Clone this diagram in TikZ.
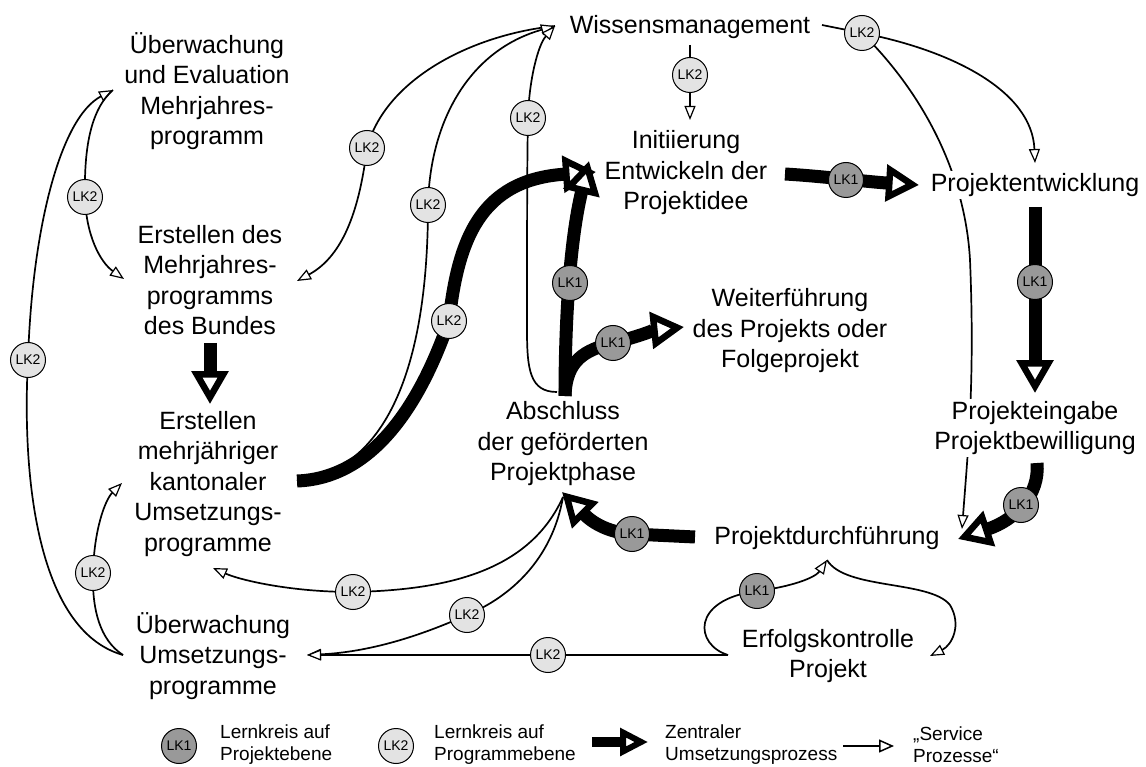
\documentclass[tikz,border=0pt]{standalone}
\usepackage{fontspec}
\setmainfont{Liberation Sans}
\usetikzlibrary{arrows.meta}
\pgfdeclarelayer{bgw}
\pgfdeclarelayer{thinlayer}
\pgfdeclarelayer{thicklayer}
\pgfsetlayers{bgw,thinlayer,thicklayer,main}
\definecolor{lkdark}{gray}{0.6}
\definecolor{lklight}{gray}{0.89}
\begin{document}
\begin{tikzpicture}[x=1pt,y=-1pt,
  lbl/.style={align=center, font=\fontsize{25}{30.5}\selectfont, fill=white, inner sep=2pt},
  leg/.style={align=left, font=\fontsize{19}{22}\selectfont, anchor=west, inner sep=0pt},
  lkone/.style={circle, draw, line width=1pt, fill=lkdark, minimum size=35pt, inner sep=0pt, font=\fontsize{14}{14}\selectfont},
  lktwo/.style={lkone, fill=lklight},
  thickarr/.style={line width=13pt, -{Triangle[length=33pt, width=36pt, line width'=6.5pt, fill=white]}},
  thinarr/.style={line width=1.7pt, -{Triangle[length=14pt, width=11pt, line width'=1.2pt, fill=white]}},
  legthick/.style={line width=10pt, -{Triangle[length=28pt, width=27pt, line width'=6pt, fill=white]}},
  legthin/.style={line width=2.5pt, -{Triangle[length=15pt, width=13pt, line width'=1.5pt, fill=white]}}
]
\begin{pgfonlayer}{bgw}
\fill[white] (0,0) rectangle (1146,767);
\end{pgfonlayer}
\useasboundingbox (0,0) rectangle (1146,767);

% ---------- text nodes ----------
\node[lbl] (uevm) at (207,91) {Überwachung\\und Evaluation\\Mehrjahres-\\programm};
\node[lbl] (mjp) at (210,280) {Erstellen des\\Mehrjahres-\\programms\\des Bundes};
\node[lbl] (kant) at (208,484) {Erstellen\\mehrjähriger\\kantonaler\\Umsetzungs-\\programme};
\node[lbl] (uum) at (213,656) {Überwachung\\Umsetzungs-\\programme};
\node[lbl] (wm) at (690,27) {Wissensmanagement};
\node[lbl] (init) at (686,173) {Initiierung\\Entwickeln der\\Projektidee};
\node[lbl] (pe) at (1035,185) {Projektentwicklung};
\node[lbl] (wf) at (790,331) {Weiterführung\\des Projekts oder\\Folgeprojekt};
\node[lbl] (abs) at (563,444) {Abschluss\\der geförderten\\Projektphase};
\node[lbl] (peb) at (1035,428) {Projekteingabe\\Projektbewilligung};
\node[lbl] (pdf) at (827,538) {Projektdurchführung};
\node[lbl] (ek) at (828,656) {Erfolgskontrolle\\Projekt};

% ---------- connector end points ----------
\coordinate (wmL) at (555,26);
\coordinate (wmB) at (690,45);
\coordinate (initT) at (690,120);
\coordinate (wmR) at (822,25);
\coordinate (uevmL) at (113,90);
\coordinate (mjpL) at (124,279);
\coordinate (mjpR) at (297,281);
\coordinate (mjpB) at (210,343);
\coordinate (kantT) at (210,404);
\coordinate (kantR) at (297,481);
\coordinate (kantL) at (122,483);
\coordinate (kantB) at (213,568);
\coordinate (uumL) at (123,655);
\coordinate (uumR) at (307,655);
\coordinate (initL) at (596,172);
\coordinate (initB) at (589,161);
\coordinate (absT) at (565,396);
\coordinate (absTl) at (557,392);
\coordinate (absB) at (563,497);
\coordinate (absBR) at (562,492);
\coordinate (wfL) at (684,327);
\coordinate (initR) at (785,174);
\coordinate (peL) at (919,185);
\coordinate (peT) at (1035,163);
\coordinate (peB) at (1035,207);
\coordinate (pebT) at (1035,393);
\coordinate (pebB) at (1037,463);
\coordinate (pdfR) at (958,539);
\coordinate (pdfRt) at (962,529);
\coordinate (pdfL) at (695,537);
\coordinate (pdfB) at (827,560);
\coordinate (ekL) at (728,655);
\coordinate (ekR) at (930,656);

% ---------- learning circle nodes ----------
\node[lktwo] (c2a) at (28,360) {LK2};
\node[lktwo] (c2b) at (85,197) {LK2};
\node[lktwo] (c2c) at (93,573) {LK2};
\node[lktwo] (c2d) at (367,148) {LK2};
\node[lktwo] (c2e) at (428,205) {LK2};
\node[lktwo] (c2f) at (528,118) {LK2};
\node[lktwo] (c2t) at (449,321) {LK2};
\node[lktwo] (c2g) at (690,75) {LK2};
\node[lktwo] (c2h) at (862,33) {LK2};
\node[lktwo] (c2i) at (353,592) {LK2};
\node[lktwo] (c2j) at (467,615) {LK2};
\node[lktwo] (c2k) at (548,655) {LK2};
\node[lkone] (c1a) at (570,283) {LK1};
\node[lkone] (c1b) at (613,343) {LK1};
\node[lkone] (c1c) at (846,180) {LK1};
\node[lkone] (c1d) at (1035,282) {LK1};
\node[lkone] (c1e) at (1021,505) {LK1};
\node[lkone] (c1f) at (632,534) {LK1};
\node[lkone] (c1g) at (757,591) {LK1};

% ---------- legend ----------
\node[lkone] (lg1) at (179,746) {LK1};
\node[leg] (lg1t) at (220,745) {Lernkreis auf\\Projektebene};
\node[lktwo] (lg2) at (396,746) {LK2};
\node[leg] (lg2t) at (434,745) {Lernkreis auf\\Programmebene};
\coordinate (lga1) at (592,742);
\coordinate (lga2) at (648,742);
\node[leg] (lg3t) at (665,745) {Zentraler\\Umsetzungsprozess};
\coordinate (lgb1) at (843,746);
\coordinate (lgb2) at (894,746);
\node[leg] (lg4t) at (913,745) {„Service\\Prozesse“};

% ---------- thin "service" connectors ----------
\begin{pgfonlayer}{thinlayer}
\draw[thinarr] (uumL) .. controls (35,630) and (22,470) .. (c2a.center)
  .. controls (32,230) and (60,118) .. (uevmL);
\draw[thinarr] (uevmL) .. controls (90,110) and (84,150) .. (c2b.center)
  .. controls (86,235) and (100,262) .. (mjpL);
\draw[thinarr] (uumL) .. controls (100,640) and (92,610) .. (c2c.center)
  .. controls (94,530) and (105,500) .. (kantL);
\draw[thinarr] (wmL) .. controls (470,35) and (385,80) .. (c2d.center)
  .. controls (360,205) and (345,255) .. (mjpR);
\draw[thinarr] (kantR) .. controls (385,470) and (428,370) .. (c2e.center)
  .. controls (430,120) and (470,50) .. (wmL);
\draw[thinarr] (absTl) .. controls (530,392) and (527,370) .. (527,330)
  .. controls (527,250) and (527,160) .. (c2f.center)
  .. controls (529,80) and (538,45) .. (wmL);
\draw[thinarr] (wmB) -- (c2g.center) -- (initT);
\draw[thinarr] (wmR) -- (c2h.center) .. controls (950,50) and (1032,90) .. (peT);
\draw[thinarr] (c2h.center) .. controls (920,90) and (965,170) .. (970,260)
  .. controls (975,380) and (968,450) .. (pdfRt);
\draw[thinarr] (absB) .. controls (530,570) and (450,590) .. (c2i.center)
  .. controls (290,592) and (240,580) .. (kantB);
\draw[thinarr] (absB) .. controls (552,560) and (510,597) .. (c2j.center)
  .. controls (420,636) and (370,652) .. (uumR);
\draw[thinarr] (ekL) -- (c2k.center) -- (uumR);
\draw[thinarr] (ekL) .. controls (695,645) and (690,600) .. (c1g.center)
  .. controls (790,587) and (815,578) .. (pdfB);
\draw[thinarr] (pdfB) .. controls (845,590) and (930,580) .. (950,605)
  .. controls (962,625) and (952,645) .. (ekR);
\draw[legthin] (lgb1) -- (lgb2);
\end{pgfonlayer}

% ---------- thick central process ----------
\begin{pgfonlayer}{thicklayer}
\draw[thickarr] (mjpB) -- (kantT);
\draw[thickarr] (kantR) .. controls (380,478) and (425,390) .. (c2t.center)
  .. controls (458,240) and (480,180) .. (initL);
\draw[thickarr] (absT) .. controls (565,320) and (570,240) .. (initB);
\draw[thickarr] (absT) .. controls (566,360) and (585,350) .. (c1b.center)
  .. controls (640,336) and (655,330) .. (wfL);
\draw[thickarr] (initR) .. controls (820,176) and (870,182) .. (peL);
\draw[thickarr] (peB) -- (pebT);
\draw[thickarr] (pebB) .. controls (1040,495) and (1015,520) .. (pdfR);
\draw[thickarr] (pdfL) -- (c1f.center) .. controls (600,532) and (585,515) .. (absBR);
\draw[legthick] (lga1) -- (lga2);
\end{pgfonlayer}
\end{tikzpicture}
\end{document}
